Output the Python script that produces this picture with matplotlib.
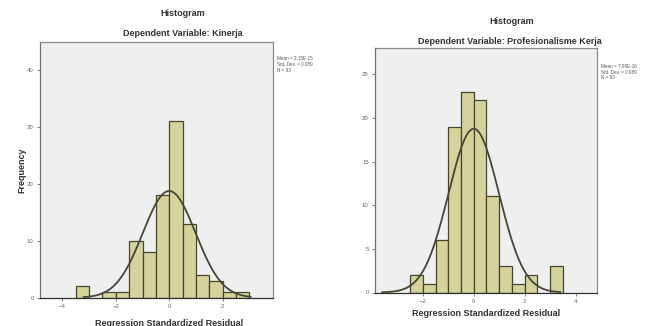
import numpy as np
import matplotlib
matplotlib.use("Agg")
import matplotlib.pyplot as plt

plt.rcParams['font.family'] = ['Liberation Sans', 'DejaVu Sans']

# ---- data ----
bin_width = 0.5
left_edges_k = [-3.5, -2.5, -2.0, -1.5, -1.0, -0.5, 0.0, 0.5, 1.0, 1.5, 2.0, 2.5]
counts_k = [2, 1, 1, 10, 8, 18, 31, 13, 4, 3, 1, 1]
mean_k, sd_k, n_k = 2.15e-15, 0.989, 93
stats_k = ["Mean = 2.15E-15", "Std. Dev. = 0.989", "N = 93"]
curve_range_k = (-3.2, 3.05)

left_edges_p = [-2.5, -2.0, -1.5, -1.0, -0.5, 0.0, 0.5, 1.0, 1.5, 2.0, 3.0]
counts_p = [2, 1, 6, 19, 23, 22, 11, 3, 1, 2, 3]
mean_p, sd_p, n_p = 7.98e-16, 0.989, 93
stats_p = ["Mean = 7.98E-16", "Std. Dev. = 0.989", "N = 93"]
curve_range_p = (-3.6, 3.4)

yticks_k = [0, 10, 20, 30, 40]
yticks_p = [0, 5, 10, 15, 20, 25]
xticks_k = [-4, -2, 0, 2]
xticks_p = [-2, 0, 2, 4]

W, H = 656, 326
fig = plt.figure(figsize=(W / 100, H / 100), dpi=100)
fig.patch.set_facecolor('white')

bar_color = '#d5d29c'
edge_color = '#45452c'
bg = '#efefef'


def px_axes(l, t, r, b):
    return fig.add_axes([l / W, 1 - b / H, (r - l) / W, (b - t) / H])


def draw(ax, edges, counts, mean, sd, n, xlim, ylim, xt, yt, crange):
    ax.set_facecolor(bg)
    ax.bar(edges, counts, width=bin_width, align='edge', color=bar_color,
           edgecolor=edge_color, linewidth=0.9, zorder=2)
    xs = np.linspace(crange[0], crange[1], 400)
    ys = n * bin_width * np.exp(-0.5 * ((xs - mean) / sd) ** 2) / (sd * np.sqrt(2 * np.pi))
    ax.plot(xs, ys, color='#454538', linewidth=1.3, zorder=3)
    ax.set_xlim(*xlim)
    ax.set_ylim(*ylim)
    ax.set_xticks(xt)
    ax.set_yticks(yt)
    ax.tick_params(labelsize=4.3, colors='#666666', length=2.5, width=0.6, pad=2)
    for s in ax.spines.values():
        s.set_color('#8a8a8a')
        s.set_linewidth(0.9)
    ax.spines['bottom'].set_color('#303030')
    ax.spines['left'].set_color('#707070')


axL = px_axes(40, 41.7, 273.3, 297.7)
draw(axL, left_edges_k, counts_k, mean_k, sd_k, n_k, (-4.84, 3.9), (0, 45),
     xticks_k, yticks_k, curve_range_k)
axR = px_axes(375, 48, 596.7, 292.5)
draw(axR, left_edges_p, counts_p, mean_p, sd_p, n_p, (-3.88, 4.83), (0, 28),
     xticks_p, yticks_p, curve_range_p)

tkw = dict(ha='center', va='center', fontsize=6.5, fontweight='bold', color='#333333')
fig.text(183 / W, 1 - 14 / H, "Histogram", **tkw)
fig.text(183 / W, 1 - 34 / H, "Dependent Variable: Kinerja", **tkw)
fig.text(512 / W, 1 - 22 / H, "Histogram", **tkw)
fig.text(510 / W, 1 - 41.5 / H, "Dependent Variable: Profesionalisme Kerja", **tkw)

fig.text(169 / W, 1 - 323 / H, "Regression Standardized Residual", **tkw)
fig.text(486 / W, 1 - 313 / H, "Regression Standardized Residual", **tkw)
fig.text(21.5 / W, 1 - 170 / H, "Frequency", rotation=90, **tkw)

for i, s in enumerate(stats_k):
    fig.text(277 / W, 1 - (58 + 6 * i) / H, s, ha='left', va='center', fontsize=3.3, color='#555555')
for i, s in enumerate(stats_p):
    fig.text(601 / W, 1 - (66 + 6 * i) / H, s, ha='left', va='center', fontsize=3.3, color='#555555')

fig.savefig('out.png', dpi=100, facecolor='white')
